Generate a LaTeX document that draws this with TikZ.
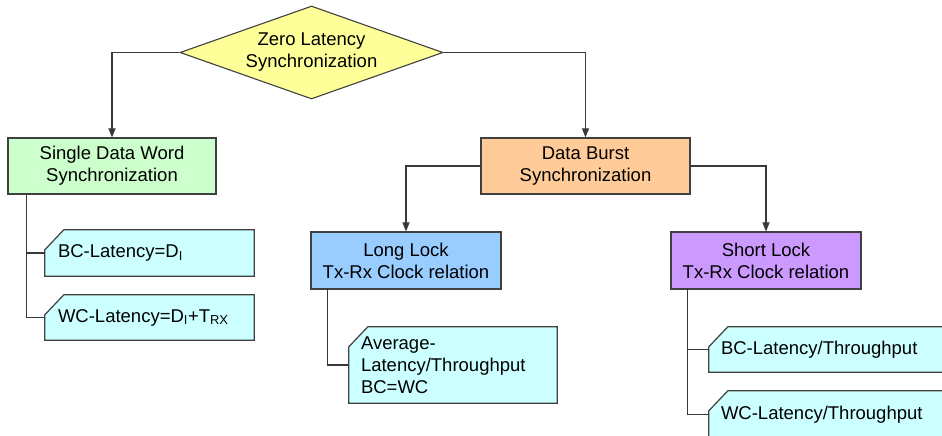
\documentclass[tikz,border=0pt]{standalone}
\usepackage{fontspec}
\setmainfont{Liberation Sans}
\usepackage{tikz}
\usetikzlibrary{shapes.geometric,arrows.meta,backgrounds}

\definecolor{zlyellow}{HTML}{FFFF99}
\definecolor{sdwgreen}{HTML}{CCFFCC}
\definecolor{dborange}{HTML}{FFCC99}
\definecolor{llblue}{HTML}{99CCFF}
\definecolor{slpurple}{HTML}{CC99FF}
\definecolor{notecyan}{HTML}{CCFFFF}
\definecolor{edgegray}{HTML}{404040}

\tikzset{
  txt/.style={font=\fontsize{18.5}{22}\selectfont},
  syncbox/.style={txt,draw=edgegray,line width=1.2pt,align=center,inner sep=0pt},
  note/.style={txt,align=left,inner sep=0pt},
  noteedge/.style={draw=edgegray,line width=1.2pt,fill=notecyan},
  link/.style={draw=gray!45!black,line width=1.1pt},
  flow/.style={link,-{Triangle[length=9pt,width=7pt]}}
}

\begin{document}
\begin{tikzpicture}[x=1pt,y=-1pt]
  \useasboundingbox (0,0) rectangle (942,436);
  \draw node [txt,diamond,shape aspect=2.83,draw=edgegray,line width=1.1pt,fill=zlyellow,
    minimum width=263pt,minimum height=93pt,inner sep=1pt,align=center]
    (zl) at (311.5,52.5) {Zero Latency\\Synchronization};
  \draw node [syncbox,fill=sdwgreen,minimum width=208pt,minimum height=56pt]
    (sdw) at (112,166) {Single Data Word\\Synchronization};
  \draw node [syncbox,fill=dborange,minimum width=209pt,minimum height=56pt]
    (db) at (585.5,166) {Data Burst\\Synchronization};
  \draw node [syncbox,fill=llblue,minimum width=190pt,minimum height=57pt]
    (ll) at (406,260.5) {Long Lock\\Tx-Rx Clock relation};
  \draw node [syncbox,fill=slpurple,minimum width=190pt,minimum height=57pt]
    (sl) at (766,260.5) {Short Lock\\Tx-Rx Clock relation};

  % callouts
  \draw node [note,text width=183pt,minimum width=209pt,minimum height=46pt]
    (bc) at (149.5,253) {BC-Latency=D\textsubscript{I}};
  \draw node [note,text width=183pt,minimum width=209pt,minimum height=45pt]
    (wc) at (149.5,317.5) {WC-Latency=D\textsubscript{I}+T\textsubscript{RX}};
  \draw node [note,text width=184pt,minimum width=208pt,minimum height=76pt]
    (avg) at (453,365) {Average-\\Latency/Throughput\\BC=WC};
  \draw node [note,text width=236pt,minimum width=260pt,minimum height=45pt]
    (sbc) at (839,349.5) {BC-Latency/Throughput};
  \draw node [note,text width=236pt,minimum width=260pt,minimum height=47pt]
    (swc) at (839,414.5) {WC-Latency/Throughput};
  \begin{scope}[on background layer]
    \foreach \n in {bc,wc,avg,sbc,swc}
      \draw[noteedge] (\n.south west) -- ([yshift=-20pt]\n.north west)
        -- ([xshift=19pt]\n.north west) -- (\n.north east) -- (\n.south east) -- cycle;
  \end{scope}

  \draw[flow] (zl.west) -| (sdw.north);
  \draw[flow] (zl.east) -| (db.north);
  \draw[flow] (db.west) -| (ll.north);
  \draw[flow] (db.east) -| (sl.north);

  \draw[link] (sdw.south west) ++(19,0) |- (bc.west);
  \draw[link] (sdw.south west) ++(19,0) |- (wc.west);
  \draw[link] (ll.south west) ++(17,0) |- (avg.west);
  \draw[link] (sl.south west) ++(17,0) |- (sbc.west);
  \draw[link] (sl.south west) ++(17,0) |- (swc.west);
\end{tikzpicture}
\end{document}
